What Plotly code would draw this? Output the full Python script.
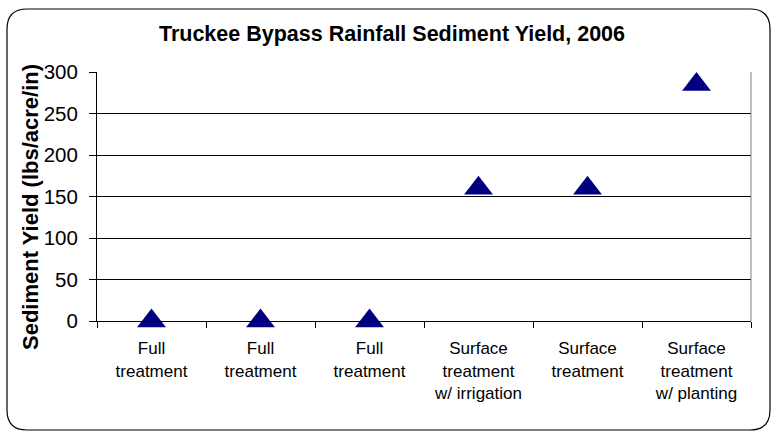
import plotly.graph_objects as go

categories = ["Full<br>treatment", "Full<br>treatment", "Full<br>treatment",
              "Surface<br>treatment<br>w/ irrigation", "Surface<br>treatment",
              "Surface<br>treatment<br>w/ planting"]
sediment_yield = [0, 0, 0, 160, 160, 285]
y_ticks = [0, 50, 100, 150, 200, 250, 300]

W, H = 773, 432
L, R, T, B = 97, 22, 72, 111
pw, ph = W - L - R, H - T - B

def px_x(p):
    return (p - L) / pw

def px_y(p):
    return (H - B - p) / ph

xpos = list(range(len(categories)))

fig = go.Figure()
fig.add_trace(go.Scatter(
    x=xpos, y=sediment_yield, mode="markers",
    marker=dict(symbol="triangle-up", size=25, color="#000080",
                line=dict(width=0)),
    cliponaxis=False, showlegend=False, hoverinfo="y"))

FONT = "Liberation Sans, Arial, sans-serif"

fig.update_layout(
    width=W, height=H,
    margin=dict(l=L, r=R, t=T, b=B),
    paper_bgcolor="white", plot_bgcolor="white",
    font=dict(family=FONT, color="black"),
    title=dict(text="<b>Truckee Bypass Rainfall Sediment Yield, 2006</b>",
               x=(152 + 632) / 2 / W, xanchor="center",
               y=1 - 33 / H, yanchor="middle", yref="container",
               font=dict(size=21.5, family=FONT, color="black")),
    xaxis=dict(range=[-0.5, len(categories) - 0.5],
               tickmode="array", tickvals=xpos, ticktext=categories,
               ticks="", showgrid=False, zeroline=False,
               showline=True, linecolor="black", linewidth=1,
               tickfont=dict(size=17, family=FONT, color="black"),
               ticklabelstandoff=12,
               minor=dict(tickmode="array",
                          tickvals=[i - 0.5 for i in range(len(categories) + 1)],
                          ticks="outside", ticklen=6, tickcolor="black",
                          tickwidth=1, showgrid=False)),
    yaxis=dict(range=[0, 300], tickmode="array", tickvals=y_ticks,
               ticks="outside", ticklen=7, tickcolor="black",
               showgrid=True, gridcolor="black", gridwidth=1,
               zeroline=False, showline=True, linecolor="black", linewidth=1,
               tickfont=dict(size=20.5, family=FONT, color="black"),
               ticklabelstandoff=7),
)

# Y axis title
fig.add_annotation(text="<b>Sediment Yield (lbs/acre/in)</b>",
                   xref="paper", yref="paper",
                   x=px_x(30), y=px_y(207), xanchor="center", yanchor="middle",
                   textangle=-90, showarrow=False,
                   font=dict(size=22, family=FONT, color="black"))

# Right plot-area border
fig.add_shape(type="line", xref="paper", yref="paper",
              x0=1, x1=1, y0=0, y1=1, line=dict(color="#808080", width=1))

# Rounded chart border
x0, x1, y0, y1, rad = 7, 770, 9, 430, 20
rx, ry = rad / pw, rad / ph
X0, X1, Y0, Y1 = px_x(x0), px_x(x1), px_y(y0), px_y(y1)
path = (f"M {X0 + rx},{Y0} L {X1 - rx},{Y0} Q {X1},{Y0} {X1},{Y0 - ry} "
        f"L {X1},{Y1 + ry} Q {X1},{Y1} {X1 - rx},{Y1} "
        f"L {X0 + rx},{Y1} Q {X0},{Y1} {X0},{Y1 + ry} "
        f"L {X0},{Y0 - ry} Q {X0},{Y0} {X0 + rx},{Y0} Z")
fig.add_shape(type="path", path=path, xref="paper", yref="paper",
              line=dict(color="black", width=1.2), layer="above")

fig.write_html("out.html",
               config={"displayModeBar": False},
               post_script="document.body.style.margin='0';"
                           "document.body.style.overflow='hidden';")
